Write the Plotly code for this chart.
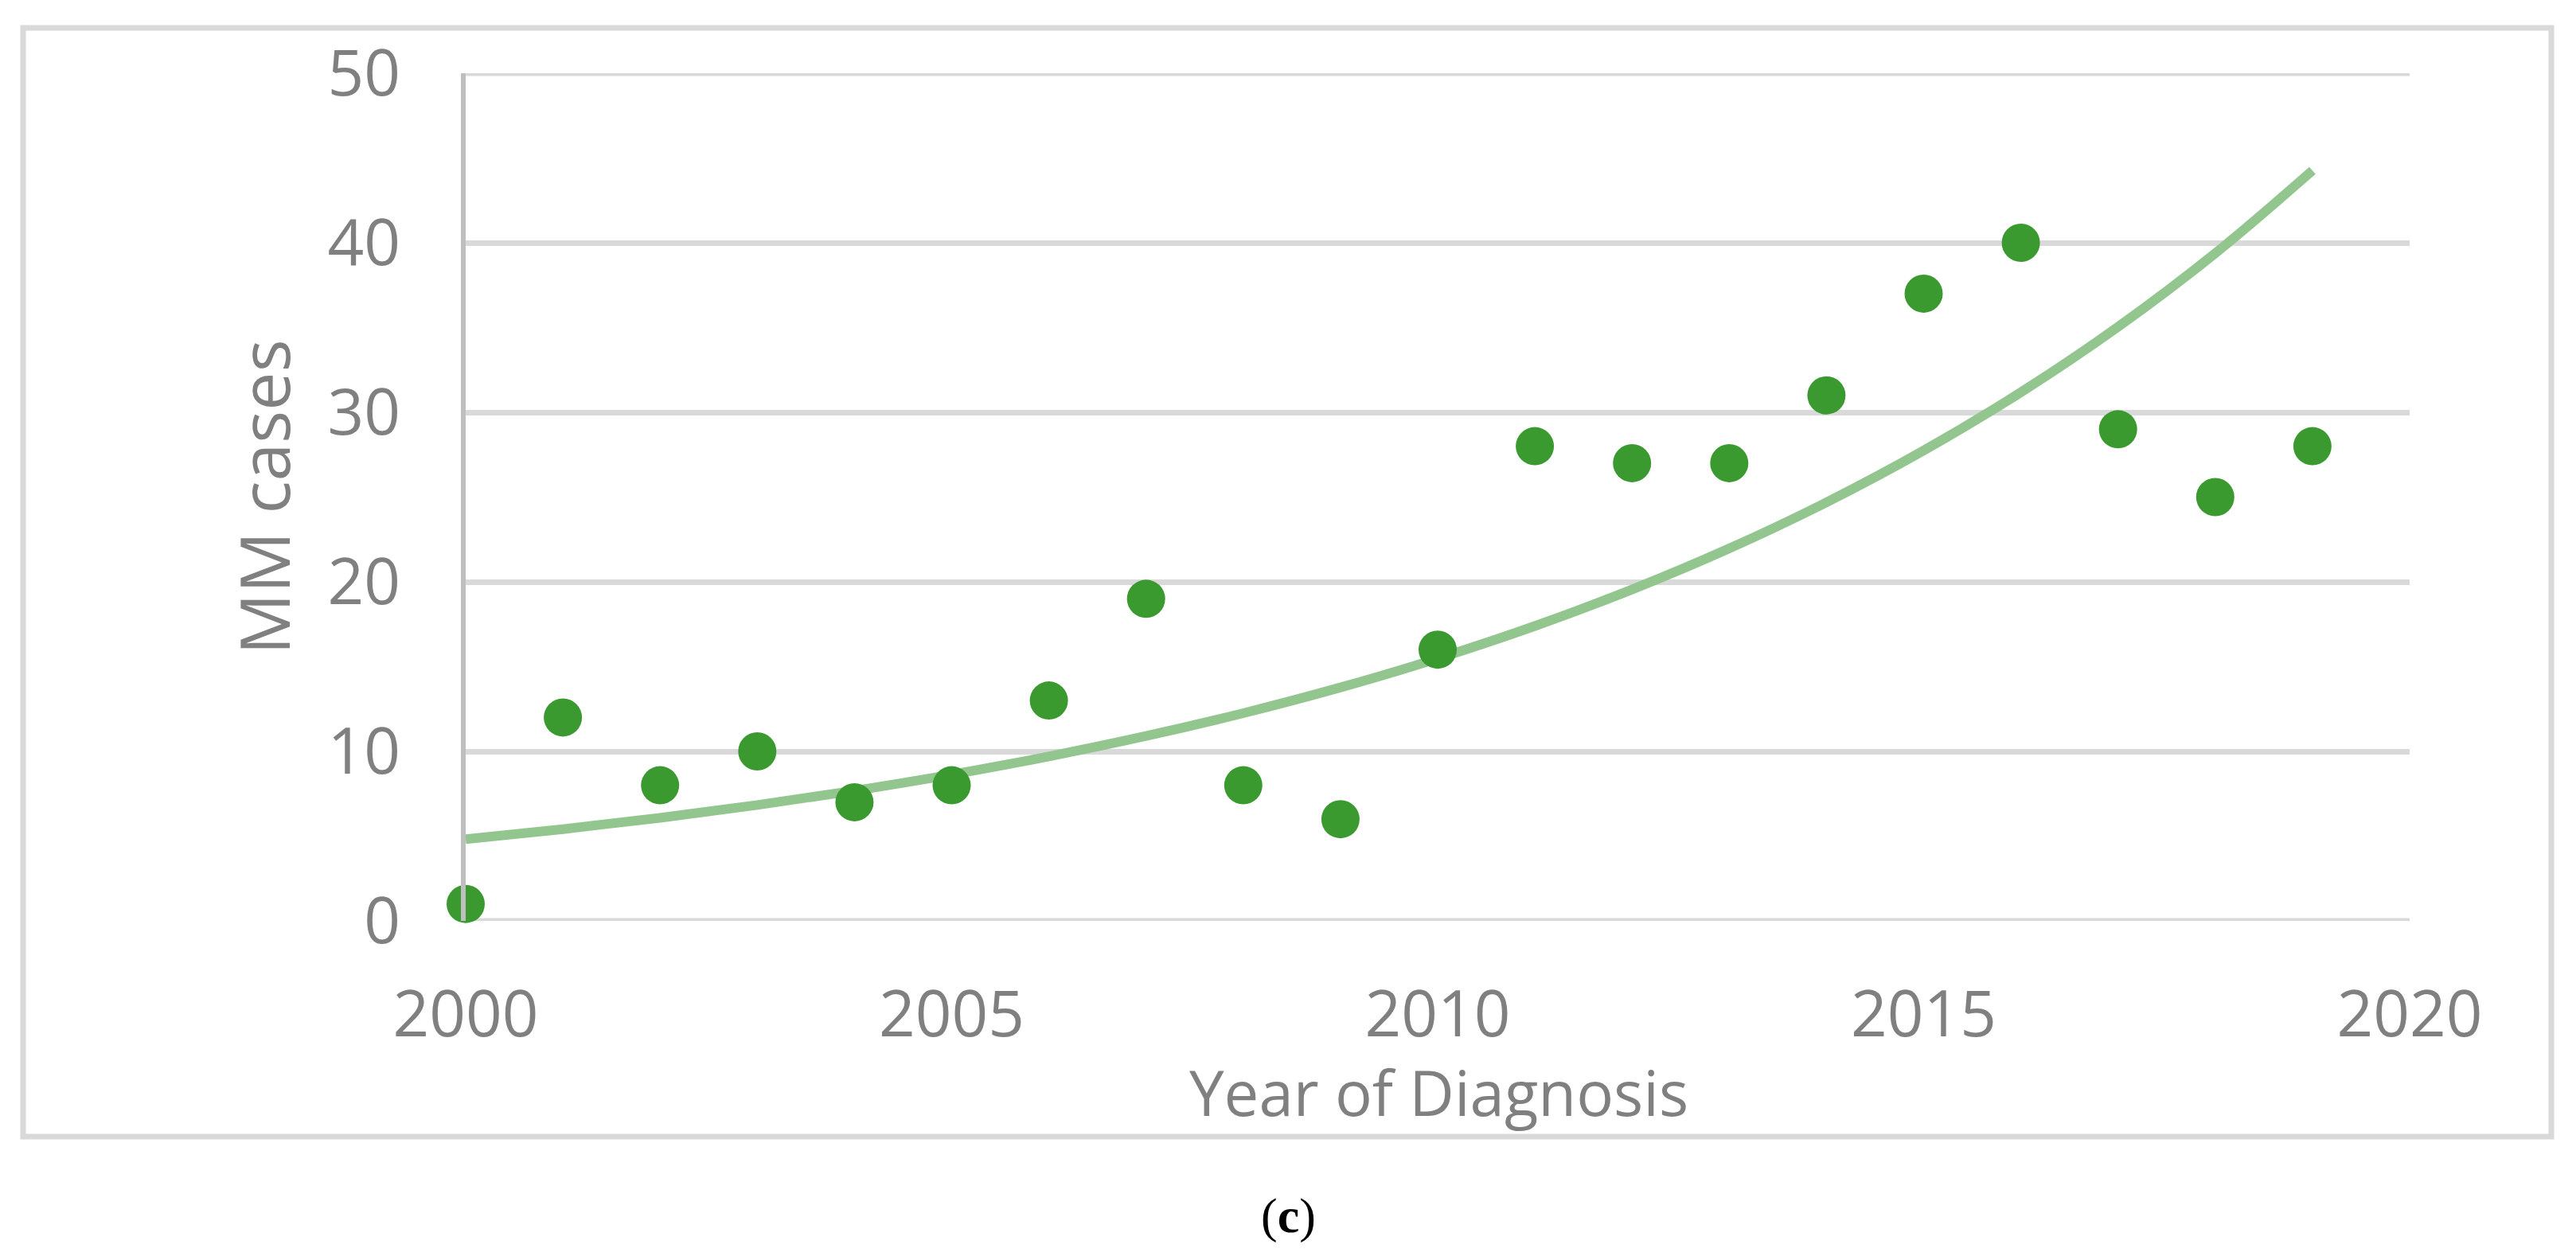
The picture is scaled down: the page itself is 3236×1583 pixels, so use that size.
import numpy as np
import plotly.graph_objects as go

# ---- data ----
years = [2000, 2001, 2002, 2003, 2004, 2005, 2006, 2007, 2008, 2009,
         2010, 2011, 2012, 2013, 2014, 2015, 2016, 2017, 2018, 2019]
mm_cases = [1, 12, 8, 10, 7, 8, 13, 19, 8, 6,
            16, 28, 27, 27, 31, 37, 40, 29, 25, 28]
x_ticks = [2000, 2005, 2010, 2015, 2020]
y_ticks = [0, 10, 20, 30, 40, 50]

# exponential trendline (least squares on ln y, as a spreadsheet trendline does)
yr = np.array(years, dtype=float)
b, a = np.polyfit(yr - yr[0], np.log(np.array(mm_cases, dtype=float)), 1)
trend = np.exp(a + b * (yr - yr[0]))

# ---- layout geometry (pixels) ----
W, H = 3236, 1583
PL, PR, PT, PB = 585, 3027, 92, 1157
pw, ph = PR - PL, PB - PT

def px(xp):
    return (xp - PL) / pw

def py(yp):
    return (PB - yp) / ph

GRAY = "#808080"
FONT = "Open Sans"

fig = go.Figure()
fig.add_trace(go.Scatter(
    x=years, y=trend, mode="lines", line=dict(color="#92C68E", width=12, shape="spline"),
    hoverinfo="skip", showlegend=False, cliponaxis=False))
fig.add_trace(go.Scatter(
    x=years, y=mm_cases, mode="markers",
    marker=dict(color="#3A9A30", size=48, line=dict(width=0)),
    showlegend=False, cliponaxis=False))

fig.update_layout(
    width=W, height=H, autosize=False,
    margin=dict(l=PL, r=W - PR, t=PT, b=H - PB, pad=0),
    paper_bgcolor="white", plot_bgcolor="white",
    font=dict(family=FONT, color=GRAY, size=80),
    xaxis=dict(range=[x_ticks[0], x_ticks[-1]], tickvals=x_ticks, ticktext=[str(t) for t in x_ticks],
               showgrid=False, zeroline=False, showline=False, ticks="",
               ticklabelstandoff=64,
               tickfont=dict(family=FONT, size=80, color=GRAY)),
    yaxis=dict(range=[y_ticks[0], y_ticks[-1]], tickvals=y_ticks, ticktext=[str(t) for t in y_ticks],
               showgrid=True, gridcolor="#D9D9D9", gridwidth=7, zeroline=False,
               showline=True, linecolor="#BFBFBF", linewidth=6, ticks="",
               ticklabelstandoff=60,
               tickfont=dict(family=FONT, size=80, color=GRAY),
               title=dict(text="MM cases", standoff=20,
                          font=dict(family=FONT, size=86, color=GRAY))),
)

# gridlines at the range edges (plotly omits them)
for yv in (y_ticks[0], y_ticks[-1]):
    fig.add_shape(type="line", xref="paper", yref="y", x0=0, x1=1, y0=yv, y1=yv,
                  line=dict(color="#D9D9D9", width=7), layer="below")

# outer chart border
fig.add_shape(type="rect", xref="paper", yref="paper",
              x0=px(29), x1=px(3205), y0=py(1428), y1=py(35),
              line=dict(color="#D9D9D9", width=7), fillcolor="rgba(0,0,0,0)", layer="below")

# x-axis title
fig.add_annotation(text="Year of Diagnosis", xref="paper", yref="paper",
                   x=px(1808), y=py(1372), showarrow=False,
                   font=dict(family=FONT, size=78, color=GRAY),
                   xanchor="center", yanchor="middle")

# sub-figure label
fig.add_annotation(text="(<b>c</b>)", xref="paper", yref="paper",
                   x=px(1618), y=py(1527), showarrow=False,
                   font=dict(family="Liberation Serif", size=62, color="black"),
                   xanchor="center", yanchor="middle")

fig.write_html("out.html", config={"displayModeBar": False},
               post_script="document.body.style.margin='0';")
